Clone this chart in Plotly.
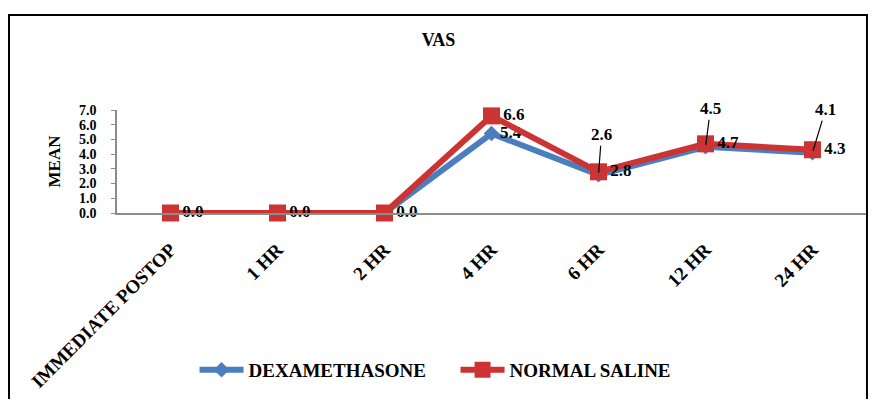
import plotly.graph_objects as go

categories = ["IMMEDIATE POSTOP", "1 HR", "2 HR", "4 HR", "6 HR", "12 HR", "24 HR"]
dexamethasone = [0.0, 0.0, 0.0, 5.4, 2.6, 4.5, 4.1]
normal_saline = [0.0, 0.0, 0.0, 6.6, 2.8, 4.7, 4.3]
y_ticks = [0, 1, 2, 3, 4, 5, 6, 7]

# which labels sit right of the point (others are raised with a leader line)
dex_right = [False, False, False, True, False, False, False]
dex_raised = [False, False, False, False, True, True, True]
ns_right = [True, True, True, True, True, True, True]
raised_offsets = {4: (3, -40), 5: (5, -38), 6: (13, -43)}

FONT = "Liberation Serif, Times New Roman, serif"
BLUE = "#4a7ebf"
RED = "#cc3333"

def lab(vals, mask):
    return [f"{v:.1f}" if m else "" for v, m in zip(vals, mask)]

def f(size):
    return dict(family=FONT, size=size, color="black", weight="bold")

fig = go.Figure()
fig.add_trace(go.Scatter(
    x=categories, y=dexamethasone, name="DEXAMETHASONE",
    mode="lines+markers+text",
    line=dict(color=BLUE, width=6),
    marker=dict(symbol="diamond", size=12, color=BLUE),
    text=lab(dexamethasone, dex_right), textposition="middle right",
    textfont=f(17),
    cliponaxis=False,
))
fig.add_trace(go.Scatter(
    x=categories, y=normal_saline, name="NORMAL SALINE",
    mode="lines+markers+text",
    line=dict(color=RED, width=6),
    marker=dict(symbol="square", size=17, color=RED),
    text=lab(normal_saline, ns_right), textposition="middle right",
    textfont=f(17),
    cliponaxis=False,
))

for i, (c, v) in enumerate(zip(categories, dexamethasone)):
    if dex_raised[i]:
        ax, ay = raised_offsets[i]
        fig.add_annotation(
            x=c, y=v, text=f"{v:.1f}", showarrow=True, arrowhead=0,
            arrowwidth=1.2, arrowcolor="black", ax=ax, ay=ay, standoff=2,
            font=f(17),
        )

# frame around the chart
fig.add_shape(type="rect", xref="paper", yref="paper",
              x0=-0.1442, x1=1.0013, y0=-1.93, y1=1.922,
              line=dict(color="black", width=2), layer="below")

fig.update_layout(
    width=861, height=391,
    margin=dict(l=109, r=3, t=102, b=186),
    paper_bgcolor="white", plot_bgcolor="white",
    font=f(16),
    title=dict(text="VAS", x=0.5, xanchor="center", y=1 - 32 / 391,
               yanchor="middle", yref="container", font=f(18)),
    showlegend=True,
    legend=dict(orientation="h", x=0.452, xanchor="center", y=-1.524,
                yanchor="middle", font=f(19), itemwidth=44,
                entrywidth=202, entrywidthmode="pixels",
                bgcolor="rgba(0,0,0,0)"),
    xaxis=dict(
        type="category", showgrid=False, zeroline=False,
        showline=True, linecolor="#8c8c8c", linewidth=2,
        tickangle=-45, ticks="", ticklabelstandoff=16,
        tickfont=f(19),
        range=[-0.5, 6.5], automargin=False,
    ),
    yaxis=dict(
        range=[0, 7], tickvals=y_ticks, tickformat=".1f",
        showgrid=False, zeroline=False,
        showline=True, linecolor="#8c8c8c", linewidth=1.5,
        ticks="outside", ticklen=4, tickcolor="#8c8c8c",
        ticklabelstandoff=12,
        tickfont=f(14),
        title=dict(text="MEAN", standoff=14, font=f(17)),
        automargin=False,
    ),
)

fig.write_html("out.html")
